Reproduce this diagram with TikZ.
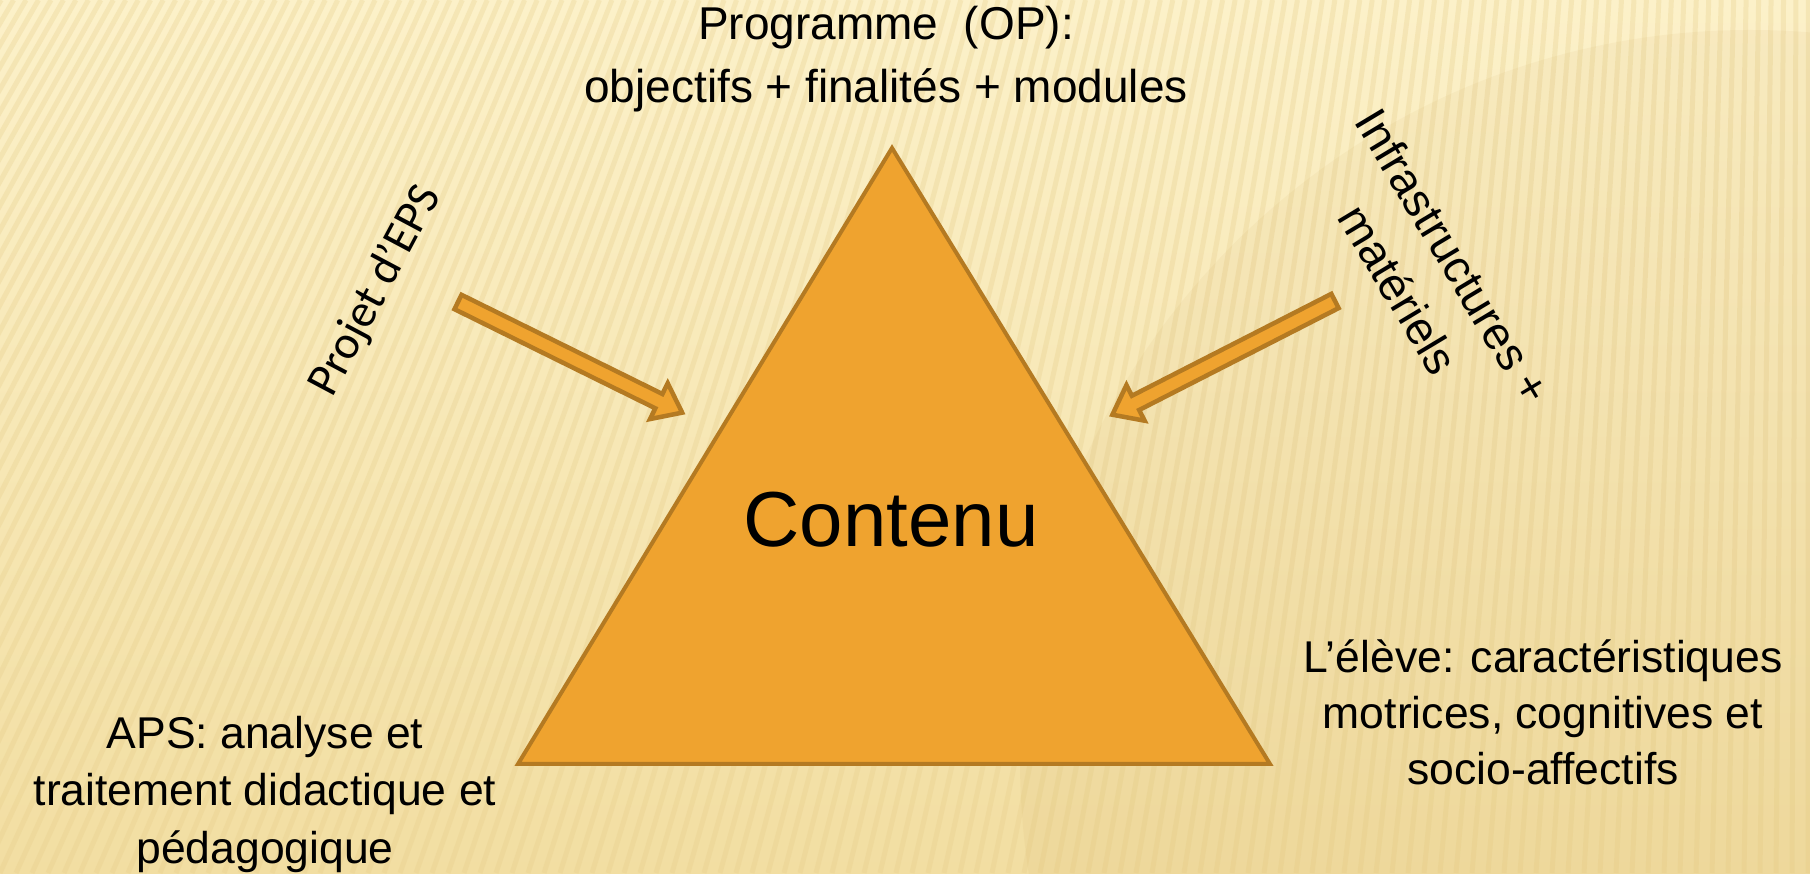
\documentclass[tikz,border=0pt]{standalone}
\usepackage{fontspec}
\setmainfont{Liberation Sans}
\newfontfamily\calib{Carlito}
\definecolor{triOrange}{HTML}{EFA32F}
\definecolor{triBrown}{HTML}{B47A22}
\definecolor{bgTop}{HTML}{FCF1C9}
\definecolor{bgBot}{HTML}{F2DEA2}
\definecolor{stripeC}{HTML}{E6CD8A}
\newcommand\blockarr[3]{%
  \begin{scope}[shift={(#1)},rotate=#2]
    \draw[blockarrow] (0,-8) -- ({#3-26},-8) -- ({#3-26},-20) -- (#3,0)
      -- ({#3-26},20) -- ({#3-26},8) -- (0,8) -- cycle;
  \end{scope}}
\begin{document}
\begin{tikzpicture}[x=1pt,y=1pt,
  tri/.style={fill=triOrange, draw=triBrown, line width=4pt, line join=miter},
  blockarrow/.style={fill=triOrange, draw=triBrown, line width=4.5pt, line join=miter, miter limit=3},
  lbl/.style={text=black, inner sep=0pt, align=center},
  stripe/.style={draw=stripeC, line width=5pt, opacity=0.3}]
% background
\shade[top color=bgTop, bottom color=bgBot] (0,0) rectangle (1810,873);
\useasboundingbox (0,0) rectangle (1810,873);
\begin{scope}
  \clip (0,0) rectangle (1810,873);
  \foreach \i in {-50,...,115} {
    \pgfmathsetmacro\xb{\i*16}
    \pgfmathsetmacro\off{max(0,400*(1-\xb/1810))}
    \draw[stripe] (\xb,0) -- (\xb+\off,873);
  }
  \fill[triBrown, opacity=0.05] (1750,113) circle (730);
\end{scope}
% triangle
\coordinate (apex) at (892,725);
\coordinate (bl) at (518,109);
\coordinate (br) at (1270,109);
\draw[tri] (apex) -- (bl) -- (br) -- cycle;
% arrows
\coordinate (projTail) at (458,571);
\coordinate (infraTail) at (1335,572);
\blockarr{projTail}{-26.27}{250}
\blockarr{infraTail}{207.06}{250}
% labels
\node[lbl, anchor=base, font=\fontsize{46}{63}\selectfont] (prog) at (886,770)
  {Programme\ \ (OP):\\objectifs + finalités + modules};
\node[lbl, rotate=62, font=\calib\fontsize{47}{55}\selectfont] (proj) at (376,582)
  {Projet d’EPS};
\node[lbl, rotate=-59, font=\fontsize{46}{64}\selectfont] (infra) at (1426,600)
  {Infrastructures +\\matériels};
\node[lbl, anchor=base, font=\fontsize{78}{90}\selectfont] (cont) at (891,326)
  {Contenu};
\node[lbl, anchor=base, font=\fontsize{44.5}{56.5}\selectfont] (eleve) at (1543,88)
  {L’élève: caractéristiques\\motrices, cognitives et\\socio-affectifs};
\node[lbl, anchor=base, font=\fontsize{44.5}{57.5}\selectfont] (aps) at (265,10)
  {APS: analyse et\\traitement didactique et\\pédagogique};
\end{tikzpicture}
\end{document}
